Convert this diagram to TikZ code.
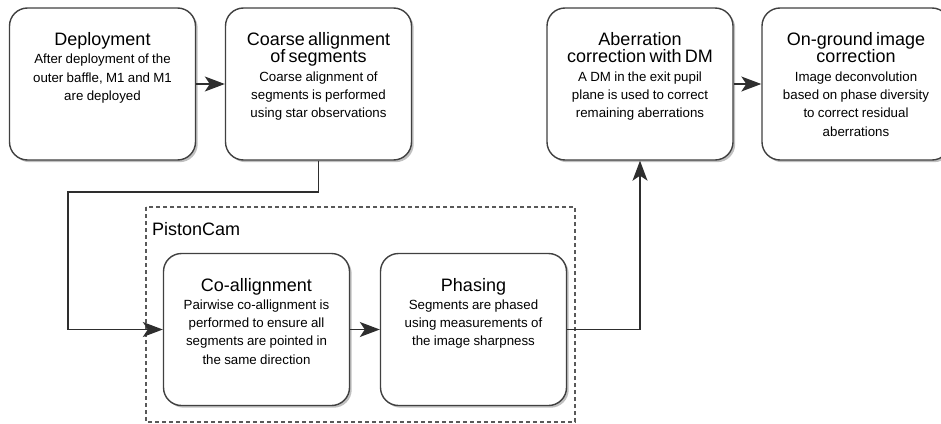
\documentclass[tikz,border=0pt]{standalone}
\usepackage{fontspec}
\setmainfont{Liberation Sans}
\usetikzlibrary{arrows.meta,shadows}
\begin{document}
\begin{tikzpicture}[x=1pt,y=-1pt,
  box/.style={draw=black!75, line width=1.4pt, rounded corners=18pt, fill=white,
    minimum width=186pt, minimum height=152pt, inner sep=0pt,
    drop shadow={shadow xshift=2.2pt, shadow yshift=-2.2pt, opacity=0.45, fill=black!55}},
  txt/.style={text width=184pt, align=center, anchor=north, inner sep=0pt},
  conn/.style={draw=black!82, line width=1.4pt, -{Stealth[length=20pt,width=15pt,inset=5pt]}},
  grp/.style={draw=black!65, line width=1.3pt, dash pattern=on 4pt off 3pt},
]
\useasboundingbox (0,0) rectangle (941,423);
\newcommand{\ttl}[1]{{\fontsize{18}{17.3}\selectfont #1\par}}
\newcommand{\bdy}[1]{{\fontsize{13.3}{18.3}\selectfont #1\par}}

% group frame
\draw[grp] (146,207) rectangle (575,422);
\node[anchor=base west, inner sep=0pt, font=\fontsize{18}{20}\selectfont] (pc) at (152,235) {PistonCam};

% boxes
\node[box] (b1) at (102.5,84) {};
\node[box] (b2) at (318.5,84) {};
\node[box] (b3) at (640,84) {};
\node[box, minimum width=188pt] (b4) at (856,84) {};
\node[box] (b5) at (256.5,329.5) {};
\node[box] (b6) at (473.5,329.5) {};

% texts
\node[txt] (t1) at ([yshift=-25pt]b1.north) {\ttl{Deployment}\bdy{After deployment of the\\outer baffle, M1 and M1\\are deployed}};
\node[txt] (t2) at ([yshift=-25pt]b2.north) {\ttl{Coarse allignment\\of segments}\bdy{Coarse alignment of\\segments is performed\\using star observations}};
\node[txt] (t3) at ([yshift=-25pt]b3.north) {\ttl{Aberration\\correction with DM}\bdy{A DM in the exit pupil\\plane is used to correct\\remaining aberrations}};
\node[txt] (t4) at ([yshift=-25pt]b4.north) {\ttl{On-ground image\\correction}\bdy{Image deconvolution\\based on phase diversity\\to correct residual\\aberrations}};
\node[txt] (t5) at ([yshift=-25pt]b5.north) {\ttl{Co-allignment}\bdy{Pairwise co-allignment is\\performed to ensure all\\segments are pointed in\\the same direction}};
\node[txt] (t6) at ([yshift=-25pt]b6.north) {\ttl{Phasing}\bdy{Segments are phased\\using measurements of\\the image sharpness}};

% connectors
\coordinate (k1) at (68,192);
\draw[conn] (b1.east) -- (b2.west);
\draw[conn] (b2.south) |- (k1) |- (b5.west);
\draw[conn] (b5.east) -- (b6.west);
\draw[conn] (b6.east) -| (b3.south);
\draw[conn] (b3.east) -- (b4.west);
\end{tikzpicture}
\end{document}
